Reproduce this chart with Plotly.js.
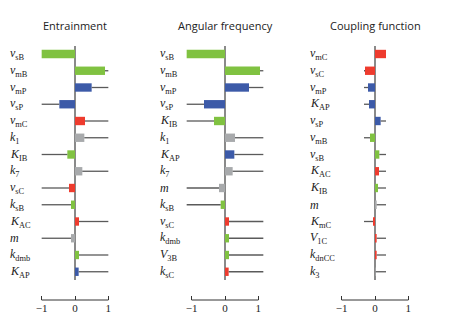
<!DOCTYPE html>
<html><head><meta charset="utf-8">
<script src="https://cdn.plot.ly/plotly-3.0.1.min.js"></script>
<style>html,body{margin:0;padding:0;background:#fff}#chart{width:450px;height:334px}</style>
</head><body><div id="chart"></div>
<script>
// ---- Data ----
const titles = ["Entrainment", "Angular frequency", "Coupling function"];

const entrainmentLabels = ["<i>v</i><sub>sB</sub>","<i>v</i><sub>mB</sub>","<i>v</i><sub>mP</sub>","<i>v</i><sub>sP</sub>","<i>v</i><sub>mC</sub>","<i>k</i><sub>1</sub>","<i>K</i><sub>IB</sub>","<i>k</i><sub>7</sub>","<i>v</i><sub>sC</sub>","<i>k</i><sub>sB</sub>","<i>K</i><sub>AC</sub>","<i>m</i>","<i>k</i><sub>dmb</sub>","<i>K</i><sub>AP</sub>"];
const entrainmentValues = [-1.0, 0.9, 0.5, -0.47, 0.3, 0.28, -0.23, 0.22, -0.18, -0.12, 0.12, -0.12, 0.12, 0.11];
const entrainmentGroups = ["B","B","P","P","C","O","B","O","C","B","C","O","B","P"];
const entrainmentMax = 1.0;

const frequencyLabels = ["<i>v</i><sub>sB</sub>","<i>v</i><sub>mB</sub>","<i>v</i><sub>mP</sub>","<i>v</i><sub>sP</sub>","<i>K</i><sub>IB</sub>","<i>k</i><sub>1</sub>","<i>K</i><sub>AP</sub>","<i>k</i><sub>7</sub>","<i>m</i>","<i>k</i><sub>sB</sub>","<i>v</i><sub>sC</sub>","<i>k</i><sub>dmb</sub>","<i>V</i><sub>3B</sub>","<i>k</i><sub>sC</sub>"];
const frequencyValues = [-1.15, 1.05, 0.72, -0.63, -0.33, 0.3, 0.28, 0.23, -0.18, -0.13, 0.12, 0.12, 0.12, 0.11];
const frequencyGroups = ["B","B","P","P","B","O","P","O","O","B","C","B","B","C"];
const frequencyMax = 1.15;

const couplingLabels = ["<i>v</i><sub>mC</sub>","<i>v</i><sub>sC</sub>","<i>v</i><sub>mP</sub>","<i>K</i><sub>AP</sub>","<i>v</i><sub>sP</sub>","<i>v</i><sub>mB</sub>","<i>v</i><sub>sB</sub>","<i>K</i><sub>AC</sub>","<i>K</i><sub>IB</sub>","<i>m</i>","<i>K</i><sub>mC</sub>","<i>V</i><sub>1C</sub>","<i>k</i><sub>dnCC</sub>","<i>k</i><sub>3</sub>"];
const couplingValues = [0.33, -0.3, -0.21, -0.18, 0.17, -0.15, 0.13, 0.12, 0.09, 0.05, -0.06, 0.05, 0.05, 0.02];
const couplingGroups = ["C","C","P","P","P","B","B","C","B","O","C","C","C","O"];
const couplingMax = 0.33;

const tickValues = [-1, 0, 1];
const tickLabels = ["\u22121", "0", "1"];

// ---- Styling / layout ----
const groupColors = {B: "#80c241", P: "#3c5aa8", C: "#ee3b2e", O: "#a8aaac"};
const panels = [
  {labels: entrainmentLabels, values: entrainmentValues, groups: entrainmentGroups, max: entrainmentMax},
  {labels: frequencyLabels, values: frequencyValues, groups: frequencyGroups, max: frequencyMax},
  {labels: couplingLabels, values: couplingValues, groups: couplingGroups, max: couplingMax}
];
const W = 450, H = 334;
const zeroPx = [75, 225, 375];
const unitPx = 33.33;
const labelPx = [8, 158, 308];
const rowTop = 54, rowStep = 16.75, plotTop = 46, plotBottom = 300, zeroBottom = 280;

const traces = [], annotations = [], shapes = [];
const layout = {
  width: W, height: H, margin: {l: 0, r: 0, t: 0, b: 0},
  paper_bgcolor: "#fff", plot_bgcolor: "rgba(0,0,0,0)",
  showlegend: false, bargap: 0.5
};
panels.forEach((p, i) => {
  const n = i + 1;
  const xa = n === 1 ? "x" : "x" + n, ya = n === 1 ? "y" : "y" + n;
  const xk = n === 1 ? "xaxis" : "xaxis" + n, yk = n === 1 ? "yaxis" : "yaxis" + n;
  const left = zeroPx[i] - 55, right = zeroPx[i] + 55;
  traces.push({
    type: "bar", orientation: "h", x: p.values, y: p.labels,
    xaxis: xa, yaxis: ya,
    marker: {color: p.groups.map(g => groupColors[g]), line: {width: 0}},
    error_x: {
      type: "data", symmetric: false,
      array: p.values.map(v => v > 0 ? Math.max(p.max - v, 0) : 0),
      arrayminus: p.values.map(v => v < 0 ? Math.max(p.max + v, 0) : 0),
      color: "#5a5a5a", thickness: 1.3, width: 0
    },
    hoverinfo: "x+y"
  });
  layout[xk] = {
    domain: [left / W, right / W], anchor: ya,
    range: [(left - zeroPx[i]) / unitPx, (right - zeroPx[i]) / unitPx],
    showgrid: false, zeroline: false, showline: false,
    tickvals: tickValues, ticktext: tickLabels,
    ticks: "inside", ticklen: 4, tickwidth: 1, tickcolor: "#333",
    tickfont: {family: "Liberation Serif, serif", size: 11, color: "#222"}
  };
  layout[yk] = {
    domain: [(H - plotBottom) / H, (H - plotTop) / H], anchor: xa,
    type: "category", categoryorder: "array", categoryarray: p.labels,
    range: [(plotBottom - rowTop) / rowStep, (plotTop - rowTop) / rowStep],
    showgrid: false, zeroline: false, showline: false, showticklabels: false, ticks: ""
  };
  // zero line
  shapes.push({type: "line", xref: xa, yref: ya, x0: 0, x1: 0,
    y0: (plotTop - rowTop) / rowStep, y1: (zeroBottom - rowTop) / rowStep,
    line: {color: "#8a8a8a", width: 2}, layer: "below"});
  // bottom axis line from -1 to 1
  shapes.push({type: "line", xref: xa, yref: ya + " domain", x0: tickValues[0], x1: tickValues[tickValues.length - 1],
    y0: 0, y1: 0, line: {color: "#333", width: 1}});
  // category labels
  p.labels.forEach(lab => {
    annotations.push({xref: "paper", yref: ya, x: labelPx[i] / W, y: lab, text: lab,
      showarrow: false, xanchor: "left", yanchor: "middle",
      font: {family: "Liberation Serif, serif", size: 12, color: "#222"}});
  });
  annotations.push({xref: "paper", yref: "paper", x: zeroPx[i] / W, y: (H - 26) / H,
    text: titles[i], showarrow: false, xanchor: "center", yanchor: "middle",
    font: {family: "Open Sans, sans-serif", size: 11, color: "#222"}});
});
layout.annotations = annotations;
layout.shapes = shapes;
Plotly.newPlot("chart", traces, layout, {displayModeBar: false, staticPlot: true});
</script></body></html>
